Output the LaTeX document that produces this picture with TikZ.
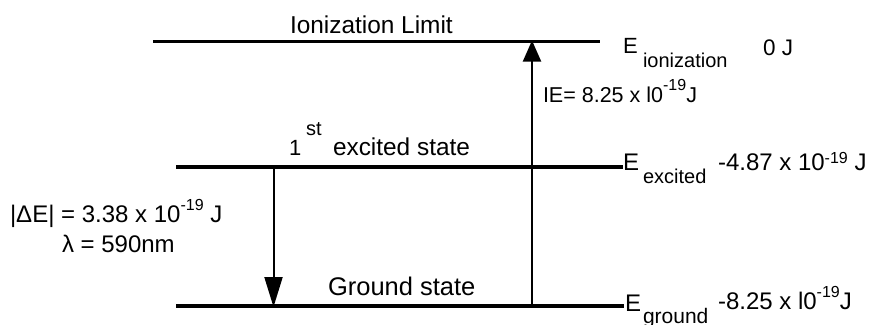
\documentclass[tikz,border=0pt]{standalone}
\usepackage{fontspec}
\setmainfont{Liberation Sans}
\usetikzlibrary{arrows.meta}
\newcommand\fs[1]{\fontsize{#1}{#1}\selectfont}
\newcommand\supr[2]{\raisebox{#1pt}{\fs{16}#2}}
\tikzset{
  txt/.style={anchor=base west, inner sep=0pt, outer sep=0pt},
  level/.style={line width=3.5pt},
  trans/.style={line width=2pt},
  uparrow/.style={trans, -{Triangle[length=21pt,width=18pt]}, shorten >=-1pt},
  downarrow/.style={trans, -{Triangle[length=30pt,width=18pt]}, shorten >=-1pt}
}
\begin{document}
\begin{tikzpicture}[x=1pt,y=-1pt]
\useasboundingbox (0,0) rectangle (874,324);
% energy levels
\coordinate (ionL) at (153,41.5);
\coordinate (ionR) at (600,41.5);
\coordinate (excL) at (176,167);
\coordinate (excR) at (623,167);
\coordinate (gndL) at (176,306);
\coordinate (gndR) at (624,306);
\draw[level] (ionL) -- (ionR);
\draw[level] (excL) -- (excR);
\draw[level] (gndL) -- (gndR);
% transitions
\coordinate (upS) at (532,306);
\coordinate (upE) at (532,41.5);
\coordinate (dnS) at (273.5,167);
\coordinate (dnE) at (273.5,306);
\draw[uparrow] (upS) -- (upE);
\draw[downarrow] (dnS) -- (dnE);
% labels
\node[txt, font=\fs{24.4}] (ionlabel) at (290,33) {Ionization Limit};
\node[txt, font=\fs{22}] (Eion) at (623,53) {E};
\node[txt, font=\fs{20}] (Eionsub) at (643,67) {ionization};
\node[txt, font=\fs{22.5}] (Eionval) at (763,55) {0 J};
\node[txt, font=\fs{21.5}] (IE) at (543,102) {IE= 8.25 x l0\supr{12}{-19}J};
\node[txt, font=\fs{22}] (one) at (289,155) {1};
\node[txt, font=\fs{20}] (st) at (306,135) {st};
\node[txt, font=\fs{24.4}] (exclabel) at (333,155) {excited state};
\node[txt, font=\fs{24}] (Eexc) at (623,170) {E};
\node[txt, font=\fs{20}] (Eexcsub) at (643,183) {excited};
\node[txt, font=\fs{24}] (Eexcval) at (718,170) {-4.87 x 10\supr{7}{-19} J};
\node[txt, font=\fs{25.5}] (gndlabel) at (328,295) {Ground state};
\node[txt, font=\fs{24}] (Egnd) at (625,311) {E};
\node[txt, font=\fs{21}] (Egndsub) at (643,323) {ground};
\node[txt, font=\fs{24}] (Egndval) at (718,309) {-8.25 x l0\supr{12}{-19}J};
\node[txt, font=\fs{24}] (dE) at (10,222) {|ΔE| = 3.38 x 10\supr{12}{-19} J};
\node[txt, font=\fs{24}] (lambda) at (62,252) {λ = 590nm};
\end{tikzpicture}
\end{document}
